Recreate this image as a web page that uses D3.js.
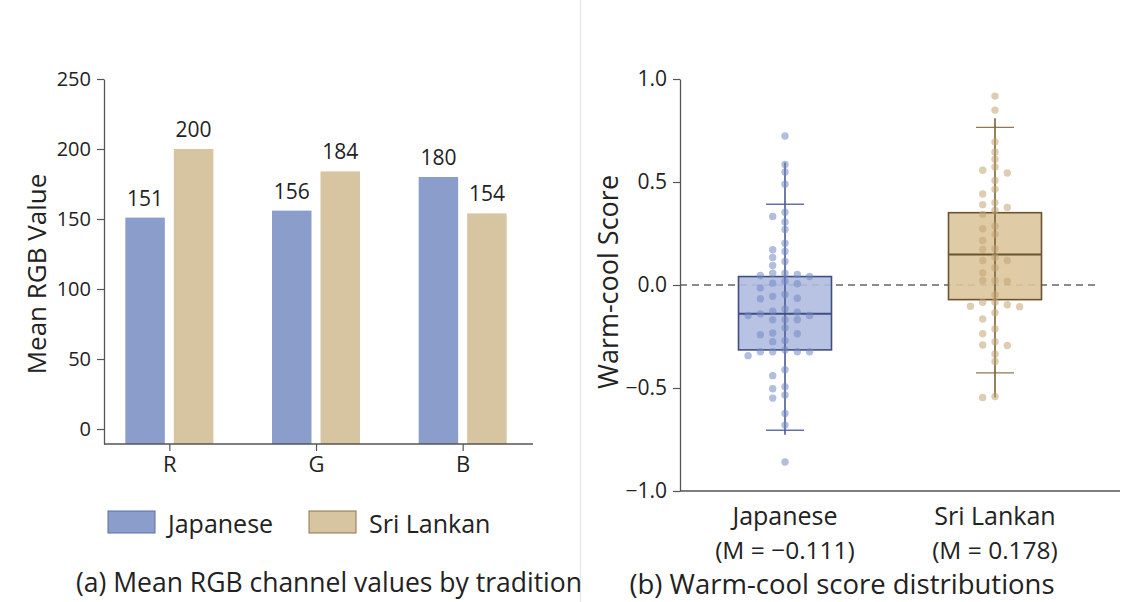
<!DOCTYPE html>
<html>
<head>
<meta charset="utf-8">
<script src="https://cdn.jsdelivr.net/npm/d3@7"></script>
<style>
  body { margin: 0; background: #fff; }
  svg { display: block; }
  text { font-family: "Open Sans", sans-serif; fill: #222; }
</style>
</head>
<body>
<svg id="chart" width="1124" height="602"></svg>
<script>
// ---- Panel (a): mean RGB channel values by tradition ----
const channels = ["R", "G", "B"];
const traditions = ["Japanese", "Sri Lankan"];
const japaneseMeans = [151, 156, 180];
const sriLankanMeans = [200, 184, 154];
const rgbTicks = [0, 50, 100, 150, 200, 250];

// ---- Panel (b): warm-cool score distributions ----
const japaneseScores = [
  0.723, 0.585, 0.549, 0.489, 0.353, 0.333, 0.306, 0.270, 0.203, 0.171,
  0.163, 0.134, 0.114, 0.095, 0.057, 0.057, 0.051, 0.046, 0.041, 0.018,
  0.009, 0.006, -0.014, -0.046, -0.055, -0.064, -0.067, -0.116, -0.127, -0.132,
  -0.140, -0.148, -0.148, -0.169, -0.169, -0.169, -0.208, -0.233, -0.237, -0.241,
  -0.270, -0.275, -0.315, -0.324, -0.324, -0.324, -0.324, -0.343, -0.411, -0.440,
  -0.494, -0.504, -0.534, -0.549, -0.624, -0.680, -0.859
];
const sriLankanScores = [
  0.917, 0.849, 0.695, 0.646, 0.611, 0.573, 0.557, 0.544, 0.507, 0.465,
  0.442, 0.400, 0.390, 0.376, 0.363, 0.343, 0.285, 0.273, 0.246, 0.216,
  0.176, 0.173, 0.135, 0.119, 0.119, 0.084, 0.059, 0.022, 0.022, 0.017,
  -0.048, -0.084, -0.084, -0.096, -0.103, -0.105, -0.135, -0.165, -0.213, -0.237,
  -0.275, -0.291, -0.294, -0.335, -0.371, -0.541, -0.546
];
const groupMeans = [-0.111, 0.178];
// box summaries: [lower cap, Q1, median, Q3, upper cap]
const japaneseBox = [-0.705, -0.315, -0.139, 0.041, 0.392];
const sriLankanBox = [-0.427, -0.071, 0.148, 0.351, 0.765];
// vertical stem extent: [bottom, top]
const japaneseStem = [-0.727, 0.595];
const sriLankanStem = [-0.546, 0.809];
const scoreTicks = [-1, -0.5, 0, 0.5, 1];
const scoreTickLabels = ["\u22121.0", "\u22120.5", "0.0", "0.5", "1.0"];

const palette = {
  "Japanese":   { bar: "#8b9dca", edge: "#5d6fa3", box: "#b0bde1", boxEdge: "#3f4e80", dot: "#7388c2", stem: "#4a5b94" },
  "Sri Lankan": { bar: "#d7c4a0", edge: "#8c7550", box: "#dcc59c", boxEdge: "#6a5430", dot: "#c2a473", stem: "#7a6035" }
};
const axisColor = "#555";

const svg = d3.select("#chart");

// separator between the two panels
svg.append("line")
  .attr("x1", 580.5).attr("x2", 580.5).attr("y1", 0).attr("y2", 602)
  .attr("stroke", "#e4e4e4").attr("stroke-width", 1);

// ================= Panel (a) =================
const gA = svg.append("g");
const yA = d3.scaleLinear().domain([-10.7, 250]).range([444, 79]);
const xA = d3.scaleBand().domain(channels).range([96, 536]).paddingInner(0).paddingOuter(0);
const xInner = d3.scaleBand().domain(traditions).range([-44, 44]).paddingInner(0.186);

const barRows = channels.map((c, i) => ({
  channel: c,
  values: [
    { tradition: "Japanese", value: japaneseMeans[i] },
    { tradition: "Sri Lankan", value: sriLankanMeans[i] }
  ]
}));

const groups = gA.selectAll("g.grp").data(barRows).join("g")
  .attr("class", "grp")
  .attr("transform", d => `translate(${xA(d.channel) + xA.bandwidth() / 2},0)`);

groups.selectAll("rect").data(d => d.values).join("rect")
  .attr("x", d => xInner(d.tradition))
  .attr("width", xInner.bandwidth())
  .attr("y", d => yA(d.value))
  .attr("height", d => yA.range()[0] - yA(d.value))
  .attr("fill", d => palette[d.tradition].bar);

groups.selectAll("text.val").data(d => d.values).join("text")
  .attr("class", "val")
  .attr("x", d => xInner(d.tradition) + xInner.bandwidth() / 2)
  .attr("y", d => yA(d.value) - 20)
  .attr("text-anchor", "middle")
  .attr("dominant-baseline", "central")
  .attr("font-size", 21)
  .text(d => d.value);

// y axis
const yAxisA = d3.axisLeft(yA).tickValues(rgbTicks).tickSize(7).tickPadding(6).tickSizeOuter(0);
const gyA = gA.append("g").attr("transform", "translate(104,0)").call(yAxisA);
gyA.select(".domain").attr("stroke", axisColor).attr("stroke-width", 1.3);
gyA.selectAll(".tick line").attr("stroke", axisColor).attr("stroke-width", 1.2);
gyA.selectAll(".tick text").attr("font-size", 20).attr("fill", "#222")
  .style("font-family", '"Open Sans", sans-serif');

// x axis
const xAxisA = d3.axisBottom(d3.scalePoint().domain(channels)
    .range([xA("R") + xA.bandwidth() / 2, xA("B") + xA.bandwidth() / 2]))
  .tickSize(7).tickPadding(5).tickSizeOuter(0);
const gxA = gA.append("g").attr("transform", "translate(0,444)").call(xAxisA);
gxA.select(".domain").remove();
gxA.append("line").attr("x1", 104).attr("x2", 533).attr("stroke", axisColor).attr("stroke-width", 1.3);
gxA.selectAll(".tick line").attr("stroke", axisColor).attr("stroke-width", 1.2);
gxA.selectAll(".tick text").attr("font-size", 22).attr("fill", "#222")
  .style("font-family", '"Open Sans", sans-serif');

gA.append("text")
  .attr("transform", "translate(36,274) rotate(-90)")
  .attr("text-anchor", "middle").attr("dominant-baseline", "central")
  .attr("font-size", 26)
  .text("Mean RGB Value");

// legend
const legend = gA.append("g");
const legendX = [108, 309];
traditions.forEach((t, i) => {
  legend.append("rect")
    .attr("x", legendX[i]).attr("y", 511).attr("width", 47).attr("height", 22)
    .attr("fill", palette[t].bar).attr("stroke", palette[t].edge).attr("stroke-width", 1);
  legend.append("text")
    .attr("x", legendX[i] + 60).attr("y", 523)
    .attr("dominant-baseline", "central")
    .attr("font-size", 25)
    .text(t);
});

gA.append("text")
  .attr("x", 329).attr("y", 582)
  .attr("text-anchor", "middle").attr("dominant-baseline", "central")
  .attr("font-size", 26.5)
  .text("(a) Mean RGB channel values by tradition");

// ================= Panel (b) =================
const gB = svg.append("g");
const yB = d3.scaleLinear().domain([-1, 1]).range([491, 79]);
const xB = d3.scalePoint().domain(traditions).range([680, 1100]).padding(0.5);

// zero reference line
gB.append("line")
  .attr("x1", 680).attr("x2", 1098).attr("y1", yB(0)).attr("y2", yB(0))
  .attr("stroke", "#666").attr("stroke-width", 1.3).attr("stroke-dasharray", "7,5");

// axes
const yAxisB = d3.axisLeft(yB).tickValues(scoreTicks)
  .tickFormat((d, i) => scoreTickLabels[i]).tickSize(7).tickPadding(6).tickSizeOuter(0);
const gyB = gB.append("g").attr("transform", "translate(680,0)").call(yAxisB);
gyB.select(".domain").attr("stroke", axisColor).attr("stroke-width", 1.3);
gyB.selectAll(".tick line").attr("stroke", axisColor).attr("stroke-width", 1.2);
gyB.selectAll(".tick text").attr("font-size", 21).attr("fill", "#222")
  .style("font-family", '"Open Sans", sans-serif');

gB.append("line")
  .attr("x1", 680).attr("x2", 1120).attr("y1", 491).attr("y2", 491)
  .attr("stroke", axisColor).attr("stroke-width", 1.3);

gB.append("text")
  .attr("transform", "translate(607,282) rotate(-90)")
  .attr("text-anchor", "middle").attr("dominant-baseline", "central")
  .attr("font-size", 27)
  .text("Warm-cool Score");

// simple swarm: each point takes the first free lane near the centre
function swarm(values, gap) {
  const laneOrder = [0, -1, 1, -2, 2, -3, 3, -4, 4];
  const placed = [];
  return values.map(v => {
    const y = yB(v);
    const lane = laneOrder.find(l => placed.every(p => p.lane !== l || Math.abs(p.y - y) >= gap));
    placed.push({ y, lane });
    return { v, y, lane };
  });
}

const boxGroups = [
  { name: "Japanese", scores: japaneseScores, box: japaneseBox, stem: japaneseStem, mean: groupMeans[0] },
  { name: "Sri Lankan", scores: sriLankanScores, box: sriLankanBox, stem: sriLankanStem, mean: groupMeans[1] }
];
const boxHalf = 46.5, capHalf = 19, laneStep = 12.3;

boxGroups.forEach(g => {
  const cx = xB(g.name);
  const col = palette[g.name];
  const [lo, q1, med, q3, hi] = g.box;
  const grp = gB.append("g");

  grp.append("rect")
    .attr("x", cx - boxHalf).attr("width", boxHalf * 2)
    .attr("y", yB(q3)).attr("height", yB(q1) - yB(q3))
    .attr("fill", col.box).attr("fill-opacity", 0.9)
    .attr("stroke", col.boxEdge).attr("stroke-width", 1.6);

  grp.append("line")
    .attr("x1", cx).attr("x2", cx).attr("y1", yB(g.stem[1])).attr("y2", yB(g.stem[0]))
    .attr("stroke", col.stem).attr("stroke-width", 1.6);

  [lo, hi].forEach(v => grp.append("line")
    .attr("x1", cx - capHalf).attr("x2", cx + capHalf).attr("y1", yB(v)).attr("y2", yB(v))
    .attr("stroke", col.stem).attr("stroke-width", 1.3).attr("stroke-opacity", 0.85));

  grp.append("line")
    .attr("x1", cx - boxHalf).attr("x2", cx + boxHalf).attr("y1", yB(med)).attr("y2", yB(med))
    .attr("stroke", col.boxEdge).attr("stroke-width", 2);

  grp.selectAll("circle").data(swarm(g.scores, 7)).join("circle")
    .attr("cx", d => cx + d.lane * laneStep)
    .attr("cy", d => d.y)
    .attr("r", 3.7)
    .attr("fill", col.dot).attr("fill-opacity", 0.55);

  gB.append("text")
    .attr("x", cx).attr("y", 515)
    .attr("text-anchor", "middle").attr("dominant-baseline", "central")
    .attr("font-size", 25)
    .text(g.name);
  gB.append("text")
    .attr("x", cx).attr("y", 549)
    .attr("text-anchor", "middle").attr("dominant-baseline", "central")
    .attr("font-size", 24.5)
    .text(`(M = ${d3.format(".3f")(g.mean).replace("-", "\u2212")})`);
});

gB.append("text")
  .attr("x", 842).attr("y", 583)
  .attr("text-anchor", "middle").attr("dominant-baseline", "central")
  .attr("font-size", 27.5)
  .text("(b) Warm-cool score distributions");
</script>
</body>
</html>
